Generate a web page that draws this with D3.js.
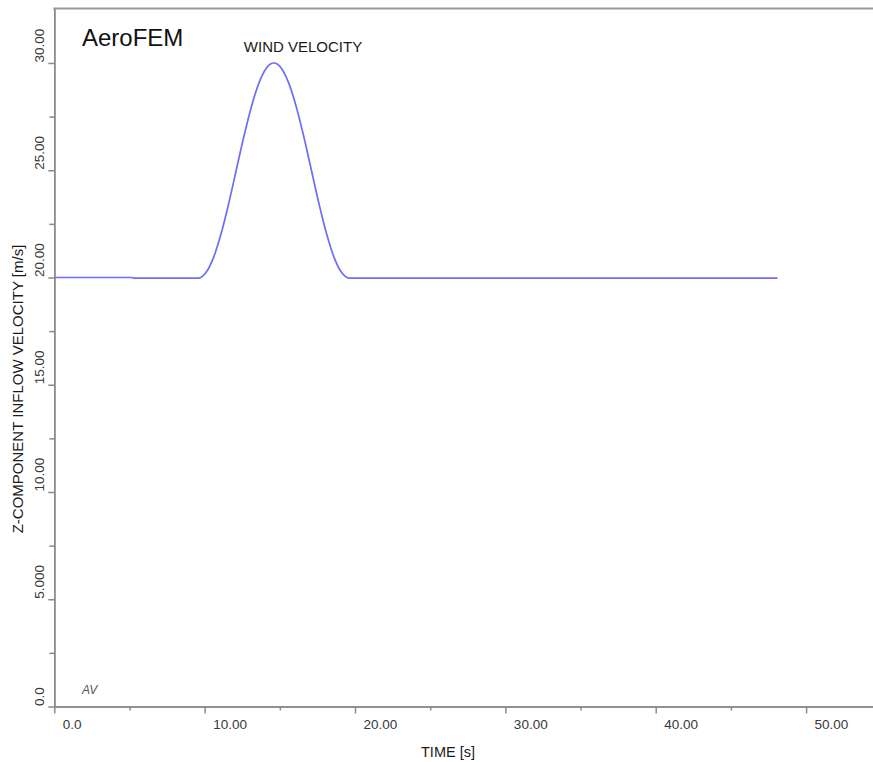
<!DOCTYPE html>
<html lang="en">
<head>
<meta charset="UTF-8">
<title>AeroFEM wind velocity</title>
<script src="https://d3js.org/d3.v7.min.js"></script>
<style>
  body { margin: 0; background: #fff; }
  text { font-family: Arial, "Liberation Sans", sans-serif; }
  .axis path, .axis line { stroke: #8a8a8a; stroke-width: 1.5; }
  .axis text { fill: #383838; font-size: 13.5px; }
</style>
</head>
<body>
<div id="chart"></div>
<script>
// data
var timeValues = [0, 5.2, 5.25, 9.6, 10.1, 10.6, 11.1, 11.6, 12.1, 12.6, 13.1, 13.6, 14.1, 14.6,
                  15.1, 15.6, 16.1, 16.6, 17.1, 17.6, 18.1, 18.6, 19.1, 19.6, 48.1];
var velocityValues = [20.0, 20.0, 19.97, 19.97, 20.24, 20.95, 22.06, 23.45, 25.0, 26.55, 27.94, 29.05, 29.76, 30.0,
                      29.76, 29.05, 27.94, 26.55, 25.0, 23.45, 22.06, 20.95, 20.24, 19.97, 19.97];

var xTicks = [0, 10, 20, 30, 40, 50];
var xTickLabels = ["0.0", "10.00", "20.00", "30.00", "40.00", "50.00"];
var xMinorTicks = [5, 15, 25, 35, 45];
var yTicks = [0, 5, 10, 15, 20, 25, 30];
var yTickLabels = ["0.0", "5.000", "10.00", "15.00", "20.00", "25.00", "30.00"];
var yMinorTicks = [2.5, 7.5, 12.5, 17.5, 22.5, 27.5];

var width = 873, height = 762;
var svg = d3.select("#chart").append("svg")
    .attr("width", width)
    .attr("height", height);

svg.append("rect").attr("width", width).attr("height", height).attr("fill", "#fff");

var x = d3.scaleLinear().domain([0, 54.45]).range([54.3, 873]);
var y = d3.scaleLinear().domain([0, 32.54]).range([706.5, 8.5]);

// top frame line
svg.append("line")
    .attr("x1", x(0) - 1).attr("x2", width)
    .attr("y1", y(32.54)).attr("y2", y(32.54))
    .attr("stroke", "#9a9a9a").attr("stroke-width", 2);

// minor ticks first
svg.append("g").attr("class", "axis")
    .attr("transform", "translate(0," + y(0) + ")")
    .call(d3.axisBottom(x).tickValues(xMinorTicks).tickSize(4).tickSizeOuter(0).tickFormat(""));
svg.append("g").attr("class", "axis")
    .attr("transform", "translate(" + x(0) + ",0)")
    .call(d3.axisLeft(y).tickValues(yMinorTicks).tickSize(5).tickSizeOuter(0).tickFormat(""));

// x axis
var xAxis = svg.append("g").attr("class", "axis")
    .attr("transform", "translate(0," + y(0) + ")")
    .call(d3.axisBottom(x).tickValues(xTicks).tickSize(7).tickSizeOuter(0)
        .tickFormat(function(d, i) { return xTickLabels[i]; }));
xAxis.selectAll("text")
    .attr("text-anchor", "start")
    .attr("dy", null)
    .attr("x", 8)
    .attr("y", 22);

// y axis
var yAxis = svg.append("g").attr("class", "axis")
    .attr("transform", "translate(" + x(0) + ",0)")
    .call(d3.axisLeft(y).tickValues(yTicks).tickSize(6).tickSizeOuter(0)
        .tickFormat(function(d, i) { return yTickLabels[i]; }));
yAxis.selectAll("text")
    .attr("text-anchor", "start")
    .attr("dy", null)
    .attr("x", null)
    .attr("transform", "translate(-10,-1) rotate(-90)");

// curve
var line = d3.line()
    .x(function(d, i) { return x(timeValues[i]); })
    .y(function(d) { return y(d); })
    .curve(d3.curveMonotoneX);

svg.append("path")
    .datum(velocityValues)
    .attr("d", line)
    .attr("fill", "none")
    .attr("stroke", "#6e6ef6")
    .attr("stroke-width", 1.7);

// titles
svg.append("text")
    .attr("x", 82).attr("y", 46)
    .attr("font-size", 24)
    .attr("fill", "#111")
    .text("AeroFEM");

svg.append("text")
    .attr("x", 303).attr("y", 52)
    .attr("text-anchor", "middle")
    .attr("font-size", 15)
    .attr("fill", "#1a1a1a")
    .text("WIND VELOCITY");

svg.append("text")
    .attr("x", 82).attr("y", 694)
    .attr("font-size", 12)
    .attr("font-style", "italic")
    .attr("fill", "#555")
    .text("AV");

svg.append("text")
    .attr("x", 448).attr("y", 757)
    .attr("text-anchor", "middle")
    .attr("font-size", 14.5)
    .attr("fill", "#1a1a1a")
    .text("TIME [s]");

svg.append("text")
    .attr("transform", "translate(23,389) rotate(-90)")
    .attr("text-anchor", "middle")
    .attr("font-size", 15)
    .attr("fill", "#1a1a1a")
    .text("Z-COMPONENT INFLOW VELOCITY [m/s]");
</script>
</body>
</html>
